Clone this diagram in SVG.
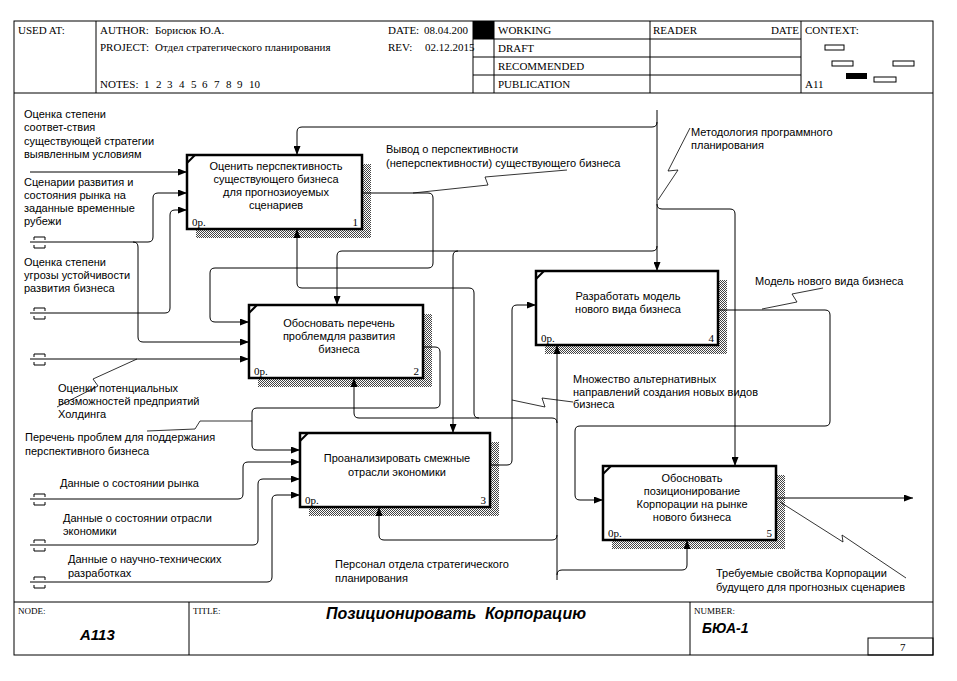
<svg xmlns="http://www.w3.org/2000/svg" width="957" height="681" viewBox="0 0 957 681">
<style>
.fr{fill:none;stroke:#000;stroke-width:1}
.hdr{font-family:"Liberation Serif","Times New Roman",serif;font-size:11px;fill:#000}
.sm{font-family:"Liberation Serif","Times New Roman",serif;font-size:9px;fill:#000}
.lbl{font-family:"Liberation Sans",Arial,sans-serif;font-size:11px;fill:#000}
.ttl{font-family:"Liberation Sans",Arial,sans-serif;font-weight:bold;font-style:italic;fill:#000}
.box{fill:#fff;stroke:#000;stroke-width:2.5}
.sh{fill:url(#hatch)}
.cn{fill:none;stroke:#000;stroke-width:2}
.c{fill:none;stroke:#000;stroke-width:1}
.a{marker-end:url(#arr)}
.ld{fill:none;stroke:#000;stroke-width:0.8}
.ctx{fill:#fff;stroke:#000;stroke-width:1}
</style>
<defs>
<pattern id="hatch" width="2" height="2" patternUnits="userSpaceOnUse">
<rect width="2" height="2" fill="#fff"/>
<rect width="1" height="1" fill="#444"/>
<rect x="1" y="1" width="1" height="1" fill="#444"/>
</pattern>
<marker id="arr" markerUnits="userSpaceOnUse" markerWidth="9" markerHeight="7" refX="9" refY="3.5" orient="auto">
<path d="M0,0 L9,3.5 L0,7 z" fill="#000"/>
</marker>
</defs>
<rect width="957" height="681" fill="#fff"/>

<g id="frame">
<rect class="fr" x="14" y="21" width="919" height="634"/>
<line class="fr" x1="14" y1="93" x2="933" y2="93"/>
<line class="fr" x1="96" y1="21" x2="96" y2="93"/>
<line class="fr" x1="473" y1="21" x2="473" y2="93"/>
<line class="fr" x1="494" y1="21" x2="494" y2="93"/>
<line class="fr" x1="650" y1="21" x2="650" y2="93"/>
<line class="fr" x1="801" y1="21" x2="801" y2="93"/>
<line class="fr" x1="473" y1="39" x2="801" y2="39"/>
<line class="fr" x1="473" y1="57" x2="801" y2="57"/>
<line class="fr" x1="473" y1="75" x2="801" y2="75"/>
<text class="hdr" x="18" y="34">USED AT:</text>
<text class="hdr" x="100" y="34">AUTHOR:</text>
<text class="hdr" x="155" y="34">Борисюк Ю.А.</text>
<text class="hdr" x="100" y="51">PROJECT:</text>
<text class="hdr" x="155" y="51">Отдел стратегического планирования</text>
<text class="hdr" x="100" y="88">NOTES:</text>
<text class="hdr" y="88"><tspan x="144">1</tspan><tspan x="156">2</tspan><tspan x="167">3</tspan><tspan x="179">4</tspan><tspan x="191">5</tspan><tspan x="202">6</tspan><tspan x="214">7</tspan><tspan x="226">8</tspan><tspan x="237">9</tspan><tspan x="249">10</tspan></text>
<text class="hdr" x="388" y="34">DATE:</text>
<text class="hdr" x="424" y="34">08.04.200</text>
<text class="hdr" x="388" y="51">REV:</text>
<text class="hdr" x="425" y="51">02.12.2015</text>
<rect x="473" y="21" width="21" height="18" fill="#000"/>
<text class="hdr" x="498" y="34">WORKING</text>
<text class="hdr" x="498" y="52">DRAFT</text>
<text class="hdr" x="498" y="70">RECOMMENDED</text>
<text class="hdr" x="498" y="88">PUBLICATION</text>
<text class="hdr" x="653" y="34">READER</text>
<text class="hdr" x="799" y="34" text-anchor="end">DATE</text>
<text class="hdr" x="805" y="34">CONTEXT:</text>
<rect class="ctx" x="825" y="45" width="19" height="5"/>
<rect class="ctx" x="832" y="61" width="21" height="5"/>
<rect class="ctx" x="893" y="61" width="21" height="5"/>
<rect x="846" y="73" width="21" height="6" fill="#000"/>
<rect class="ctx" x="874" y="77" width="22" height="5"/>
<text class="hdr" x="805" y="88">A11</text>
<line class="fr" x1="14" y1="602" x2="933" y2="602"/>
<line class="fr" x1="189" y1="602" x2="189" y2="655"/>
<line class="fr" x1="690" y1="602" x2="690" y2="655"/>
<rect class="fr" x="868" y="638" width="65" height="17"/>
<text class="sm" x="18" y="614">NODE:</text>
<text class="sm" x="193" y="614">TITLE:</text>
<text class="sm" x="694" y="614">NUMBER:</text>
<text class="ttl" x="80" y="640" font-size="15">A113</text>
<text class="ttl" x="456" y="619" font-size="16" text-anchor="middle" xml:space="preserve">Позиционировать  Корпорацию</text>
<text class="ttl" x="702" y="633" font-size="14">БЮА-1</text>
<text class="hdr" x="900" y="651" font-size="10">7</text>
</g>

<g id="node1">
<rect class="sh" x="196" y="164" width="175" height="74"/>
<rect class="box" x="187" y="155" width="175" height="74"/>
<path class="cn" d="M187,163 L195,155"/>
<text class="lbl" text-anchor="middle"><tspan x="276" y="170">Оценить перспективность</tspan><tspan x="276" y="183">существующего бизнеса</tspan><tspan x="276" y="196">для прогнозиоуемых</tspan><tspan x="276" y="209">сценариев</tspan></text>
<text class="hdr" x="192" y="226">0р.</text>
<text class="hdr" x="358" y="226" text-anchor="end">1</text>
</g>
<g id="node2">
<rect class="sh" x="258" y="314" width="174" height="73"/>
<rect class="box" x="249" y="305" width="174" height="73"/>
<path class="cn" d="M249,313 L257,305"/>
<text class="lbl" text-anchor="middle"><tspan x="339" y="327">Обосновать перечень</tspan><tspan x="339" y="340">проблемдля развития</tspan><tspan x="339" y="353">бизнеса</tspan></text>
<text class="hdr" x="254" y="375">0р.</text>
<text class="hdr" x="419" y="375" text-anchor="end">2</text>
</g>
<g id="node3">
<rect class="sh" x="309" y="442" width="190" height="74"/>
<rect class="box" x="300" y="433" width="190" height="74"/>
<path class="cn" d="M300,441 L308,433"/>
<text class="lbl" text-anchor="middle"><tspan x="397" y="462">Проанализировать смежные</tspan><tspan x="397" y="476">отрасли экономики</tspan></text>
<text class="hdr" x="305" y="504">0р.</text>
<text class="hdr" x="486" y="504" text-anchor="end">3</text>
</g>
<g id="node4">
<rect class="sh" x="545" y="280" width="182" height="74"/>
<rect class="box" x="536" y="271" width="182" height="74"/>
<path class="cn" d="M536,279 L544,271"/>
<text class="lbl" text-anchor="middle"><tspan x="628" y="300">Разработать модель</tspan><tspan x="628" y="313">нового вида бизнеса</tspan></text>
<text class="hdr" x="541" y="342">0р.</text>
<text class="hdr" x="714" y="342" text-anchor="end">4</text>
</g>
<g id="node5">
<rect class="sh" x="612" y="475" width="173" height="74"/>
<rect class="box" x="603" y="466" width="173" height="74"/>
<path class="cn" d="M603,474 L611,466"/>
<text class="lbl" text-anchor="middle"><tspan x="692" y="482">Обосновать</tspan><tspan x="692" y="495">позиционирование</tspan><tspan x="692" y="508">Корпорации на рынке</tspan><tspan x="692" y="521">нового бизнеса</tspan></text>
<text class="hdr" x="608" y="537">0р.</text>
<text class="hdr" x="772" y="537" text-anchor="end">5</text>
</g>

<g id="connectors">
<path class="c a" d="M30,172 H187"/>
<path class="c a" d="M30,242 H148 Q153,242 153,237 V198 Q153,193 158,193 H187"/>
<path class="c a" d="M133,242 Q138,242 138,247 V337 Q138,342 143,342 H249"/>
<path class="c a" d="M30,313 H165 Q170,313 170,308 V215 Q170,210 175,210 H187"/>
<path class="c a" d="M30,359 H249"/>
<path class="c a" d="M362,193 H428 Q433,193 433,198 V263 Q433,268 428,268 H215 Q210,268 210,273 V317 Q210,322 215,322 H249"/>
<path class="c a" d="M657,110 V271"/>
<path class="c a" d="M657,122 Q657,127 652,127 H302 Q297,127 297,132 V155"/>
<path class="c a" d="M657,246 Q657,251 652,251 H342 Q337,251 337,256 V305"/>
<path class="c a" d="M458,251 Q453,251 453,256 V433"/>
<path class="c a" d="M657,204 Q657,209 662,209 H730 Q735,209 735,214 V466"/>
<path class="c a" d="M423,347 H435 Q440,347 440,352 V403 Q440,408 435,408 H257 Q252,408 252,413 V445 Q252,450 257,450 H300"/>
<path class="c a" d="M30,499 H238 Q243,499 243,494 V467 Q243,462 248,462 H300"/>
<path class="c a" d="M30,545 H253 Q258,545 258,540 V484 Q258,479 263,479 H300"/>
<path class="c a" d="M30,582 H267 Q272,582 272,577 V500 Q272,495 277,495 H300"/>
<path class="c a" d="M490,465 H507 Q512,465 512,460 V310 Q512,305 517,305 H536"/>
<path class="c a" d="M718,310 H825 Q830,310 830,315 V421 Q830,426 825,426 H580 Q575,426 575,431 V495 Q575,500 580,500 H603"/>
<path class="c a" d="M776,498 H913"/>
<path class="c a" d="M557,580 V345"/>
<path class="c a" d="M557,575 Q557,570 562,570 H682 Q687,570 687,565 V540"/>
<path class="c a" d="M557,535 Q557,540 552,540 H384 Q379,540 379,535 V507"/>
<path class="c a" d="M557,423 Q557,418 552,418 H359 Q354,418 354,413 V378"/>
<path class="c a" d="M479,418 Q474,418 474,413 V293 Q474,288 469,288 H302 Q297,288 297,283 V229"/>
<path class="c" d="M34,240 V237 H45 V240 M34,245 V248 H45 V245"/>
<path class="c" d="M34,311 V308 H45 V311 M34,316 V319 H45 V316"/>
<path class="c" d="M34,357 V354 H45 V357 M34,362 V365 H45 V362"/>
<path class="c" d="M34,497 V494 H45 V497 M34,502 V505 H45 V502"/>
<path class="c" d="M34,543 V540 H45 V543 M34,548 V551 H45 V548"/>
<path class="c" d="M34,580 V577 H45 V580 M34,585 V588 H45 V585"/>
<path class="ld" d="M413,193 L488,185 L485,177 L567,170"/>
<path class="ld" d="M658,200 L678,170 L668,171 L690,128"/>
<path class="ld" d="M137,359 L93,379 L98,386 L57,407"/>
<path class="ld" d="M147,431 L195,429 L200,421 L252,421"/>
<path class="ld" d="M512,400 L545,407 L542,398 L573,402"/>
<path class="ld" d="M762,309 L797,302 L792,294 L823,288"/>
<path class="ld" d="M780,502 L843,542 L842,535 L906,578"/>
</g>

<g id="labels">
<text class="lbl"><tspan x="24" y="118">Оценка степени</tspan><tspan x="24" y="131">соответ-ствия</tspan><tspan x="24" y="145">существующей стратегии</tspan><tspan x="24" y="158">выявленным условиям</tspan></text>
<text class="lbl"><tspan x="24" y="186">Сценарии развития и</tspan><tspan x="24" y="199">состояния рынка на</tspan><tspan x="24" y="212">заданные временные</tspan><tspan x="24" y="225">рубежи</tspan></text>
<text class="lbl"><tspan x="24" y="266">Оценка степени</tspan><tspan x="24" y="279">угрозы устойчивости</tspan><tspan x="24" y="292">развития бизнеса</tspan></text>
<text class="lbl"><tspan x="58" y="392">Оценки потенциальных</tspan><tspan x="58" y="405">возможностей предприятий</tspan><tspan x="58" y="418">Холдинга</tspan></text>
<text class="lbl"><tspan x="25" y="441">Перечень проблем для поддержания</tspan><tspan x="25" y="455">перспективного бизнеса</tspan></text>
<text class="lbl" x="60" y="487">Данные о состоянии рынка</text>
<text class="lbl"><tspan x="63" y="522">Данные о состоянии отрасли</tspan><tspan x="63" y="535">экономики</tspan></text>
<text class="lbl"><tspan x="68" y="563">Данные о научно-технических</tspan><tspan x="68" y="577">разработках</tspan></text>
<text class="lbl"><tspan x="386" y="153">Вывод о перспективности</tspan><tspan x="386" y="167">(неперспективности) существующего бизнеса</tspan></text>
<text class="lbl"><tspan x="691" y="136">Методология программного</tspan><tspan x="691" y="149">планирования</tspan></text>
<text class="lbl" x="755" y="285">Модель нового вида бизнеса</text>
<text class="lbl"><tspan x="573" y="383">Множество альтернативных</tspan><tspan x="573" y="396">направлений создания новых видов</tspan><tspan x="573" y="408">бизнеса</tspan></text>
<text class="lbl"><tspan x="335" y="568">Персонал отдела стратегического</tspan><tspan x="335" y="582">планирования</tspan></text>
<text class="lbl"><tspan x="716" y="577">Требуемые свойства Корпорации</tspan><tspan x="716" y="591">будущего для прогнозных сценариев</tspan></text>
</g>
</svg>
